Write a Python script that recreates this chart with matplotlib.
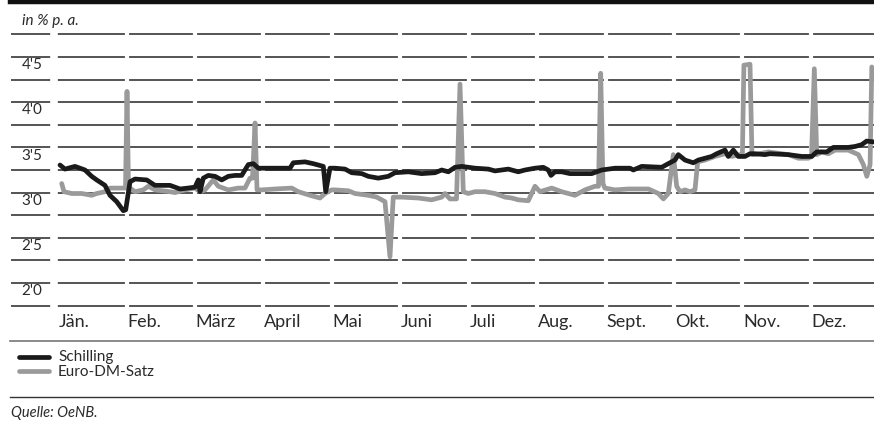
import matplotlib
matplotlib.use("Agg")
import matplotlib.pyplot as plt
from matplotlib.lines import Line2D

# ---------------- data ----------------
months = ["Jän.", "Feb.", "März", "April", "Mai", "Juni", "Juli", "Aug.", "Sept.", "Okt.", "Nov.", "Dez."]
y_ticks = [2.0, 2.5, 3.0, 3.5, 4.0, 4.5]
y_tick_labels = ["2'0", "2'5", "3'0", "3'5", "4'0", "4'5"]

# position in months since 1 Jan
schilling_t = [0.028, 0.101, 0.247, 0.393, 0.491, 0.564, 0.685, 0.758, 0.856, 0.953, 0.988,
               1.051, 1.124, 1.295, 1.416, 1.635, 1.782, 1.898, 2.000, 2.049, 2.074, 2.122,
               2.195, 2.293, 2.391, 2.487, 2.585, 2.683, 2.731, 2.780, 2.853, 2.926, 3.072,
               3.389, 3.437, 3.608, 3.729, 3.876, 3.911, 3.973, 4.046, 4.193, 4.291, 4.437,
               4.533, 4.679, 4.825, 4.923, 5.118, 5.313, 5.508, 5.606, 5.703, 5.800, 5.898,
               6.093, 6.287, 6.385, 6.579, 6.725, 6.823, 6.969, 7.090, 7.163, 7.203, 7.261,
               7.359, 7.480, 7.798, 7.944, 8.139, 8.358, 8.406, 8.528, 8.821, 8.917, 9.015,
               9.063, 9.161, 9.282, 9.356, 9.453, 9.551, 9.624, 9.745, 9.794, 9.867, 9.940,
               10.038, 10.111, 10.184, 10.330, 10.403, 10.671, 10.867, 11.013, 11.086, 11.232,
               11.328, 11.547, 11.645, 11.743, 11.816, 11.923]
schilling = [3.305, 3.26, 3.29, 3.25, 3.18, 3.14, 3.08, 2.97, 2.90, 2.80, 2.81,
             3.12, 3.15, 3.14, 3.08, 3.08, 3.04, 3.05, 3.06, 3.14, 3.01, 3.16,
             3.19, 3.18, 3.14, 3.18, 3.19, 3.19, 3.25, 3.31, 3.32, 3.27, 3.27,
             3.27, 3.33, 3.34, 3.32, 3.29, 3.01, 3.27, 3.27, 3.26, 3.22, 3.21,
             3.18, 3.16, 3.18, 3.22, 3.23, 3.21, 3.22, 3.25, 3.23, 3.28, 3.29,
             3.27, 3.26, 3.24, 3.26, 3.23, 3.25, 3.27, 3.28, 3.25, 3.19, 3.23,
             3.23, 3.21, 3.21, 3.25, 3.27, 3.27, 3.25, 3.29, 3.28, 3.32, 3.36,
             3.42, 3.36, 3.33, 3.36, 3.38, 3.40, 3.43, 3.47, 3.40, 3.47, 3.40,
             3.40, 3.43, 3.43, 3.42, 3.43, 3.42, 3.40, 3.40, 3.45, 3.45,
             3.50, 3.50, 3.51, 3.53, 3.57, 3.56]

euro_dm_t = [0.053, 0.086, 0.199, 0.345, 0.491, 0.564, 0.685, 0.758, 0.929, 0.985, 1.007,
             1.029, 1.051, 1.124, 1.245, 1.318, 1.416, 1.635, 1.708, 1.855, 2.000, 2.074,
             2.147, 2.268, 2.341, 2.487, 2.633, 2.731, 2.804, 2.841, 2.878, 2.907, 2.975,
             3.170, 3.414, 3.510, 3.681, 3.827, 3.900, 3.998, 4.046, 4.241, 4.339, 4.533,
             4.656, 4.777, 4.850, 4.898, 5.021, 5.264, 5.459, 5.606, 5.654, 5.727, 5.822,
             5.873, 5.921, 5.994, 6.093, 6.239, 6.385, 6.531, 6.629, 6.725, 6.871, 6.969,
             7.042, 7.213, 7.359, 7.553, 7.699, 7.846, 7.897, 7.929, 7.962, 7.991, 8.139,
             8.333, 8.626, 8.772, 8.845, 8.917, 8.990, 9.040, 9.088, 9.161, 9.234, 9.307,
             9.347, 9.453, 9.599, 9.745, 9.843, 9.964, 10.000, 10.022, 10.111, 10.140,
             10.184, 10.379, 10.671, 10.817, 10.963, 11.010, 11.051, 11.086, 11.159, 11.256,
             11.354, 11.549, 11.695, 11.768, 11.818, 11.866, 11.891]
euro_dm = [3.10, 3.01, 2.99, 2.99, 2.97, 2.99, 3.01, 3.05, 3.05, 3.05, 4.12,
           3.05, 3.05, 3.01, 3.03, 3.07, 3.03, 3.01, 3.00, 3.03, 3.05, 3.01,
           3.03, 3.14, 3.07, 3.03, 3.05, 3.05, 3.16, 3.16, 3.77, 3.03, 3.03,
           3.04, 3.05, 3.01, 2.97, 2.94, 2.99, 3.03, 3.03, 3.02, 2.99, 2.97,
           2.95, 2.90, 2.29, 2.95, 2.95, 2.94, 2.92, 2.95, 2.99, 2.93, 2.93,
           4.20, 3.01, 2.99, 3.01, 3.01, 2.99, 2.95, 2.94, 2.92, 2.91, 3.07,
           3.01, 3.05, 3.01, 2.97, 3.03, 3.07, 3.07, 4.32, 3.10, 3.05, 3.03,
           3.04, 3.04, 2.99, 2.93, 2.99, 3.42, 3.07, 3.01, 3.03, 3.01, 3.03,
           3.34, 3.36, 3.40, 3.43, 3.40, 3.42, 3.42, 4.41, 4.42, 3.42,
           3.42, 3.45, 3.42, 3.38, 3.38, 3.40, 4.37, 3.42, 3.45, 3.43,
           3.47, 3.47, 3.42, 3.31, 3.18, 3.31, 4.39]

# ---------------- layout helpers ----------------
W, H = 874, 425
fig = plt.figure(figsize=(W / 100, H / 100), dpi=100)
FONT = ["Lato", "DejaVu Sans"]
plt.rcParams["font.family"] = FONT
TXT = "#2a2a2a"
WT = "normal"


def fy(py):
    return 1 - py / H


def fx(px):
    return px / W


ax_l, ax_r, ax_t, ax_b = 11, 874, 25, 310
ax = fig.add_axes([fx(ax_l), fy(ax_b), (ax_r - ax_l) / W, (ax_b - ax_t) / H])
# month k starts at pixel x0 + k*mw ; value v at pixel y = y0 - (v-2)*vh
x0, mw = 58.1, 68.43
y0, vh = 283.0, 90.4
ax.set_xlim((ax_l - x0) / mw, (ax_r - x0) / mw)
ax.set_ylim(2 + (y0 - ax_b) / vh, 2 + (y0 - ax_t) / vh)
for s in ax.spines.values():
    s.set_visible(False)
ax.set_xticks([])
ax.set_yticks([])
ax.patch.set_alpha(0)

# grid lines every 0.25
g = 1.75
while g <= 4.76:
    ax.axhline(g, color="#262626", lw=1.1, zorder=1)
    g += 0.25
# month gaps
for k in range(1, 12):
    ax.axvline(k, color="white", lw=3.0, zorder=1.5)
ax.axvline((54 - x0) / mw, color="white", lw=5.5, zorder=1.5)

# series
ax.plot(euro_dm_t, euro_dm, color="#9a9a9a", lw=3.4, zorder=3,
        solid_joinstyle="round", solid_capstyle="round", clip_on=False)
ax.plot(schilling_t, schilling, color="#1a1a1a", lw=3.4, zorder=4,
        solid_joinstyle="round", solid_capstyle="round", clip_on=False)

# y labels
xl = (32 - x0) / mw
for v, lab in zip(y_ticks, y_tick_labels):
    ax.text(xl, v - 0.09, lab, ha="center", va="center", fontsize=11,
            color=TXT, fontweight=WT)

# month labels
for k, m in enumerate(months):
    ax.text(k + 0.01, 2 + (y0 - 322) / vh, m, ha="left", va="center",
            fontsize=13, color=TXT, fontweight=WT, clip_on=False)

# header / frame lines
fig.add_artist(Line2D([fx(10), 1], [fy(1.5), fy(1.5)], color="#111111", lw=3.2))
fig.add_artist(Line2D([fx(10), 1], [fy(341), fy(341)], color="#777777", lw=1.2))
fig.add_artist(Line2D([fx(10), 1], [fy(397), fy(397)], color="#333333", lw=1.0))
fig.text(fx(22), fy(21), "in % p. a.", ha="left", va="center", fontsize=11,
         style="italic", color=TXT, fontweight=WT)

# legend
fig.add_artist(Line2D([fx(19), fx(49)], [fy(357), fy(357)], color="#1a1a1a", lw=3.4,
                      solid_capstyle="round"))
fig.add_artist(Line2D([fx(19), fx(49)], [fy(371), fy(371)], color="#9a9a9a", lw=3.4,
                      solid_capstyle="round"))
fig.text(fx(58), fy(357), "Schilling", ha="left", va="center", fontsize=11,
         color=TXT, fontweight=WT)
fig.text(fx(58), fy(372), "Euro-DM-Satz", ha="left", va="center", fontsize=11,
         color=TXT, fontweight=WT)
fig.text(fx(11), fy(413), "Quelle: OeNB.", ha="left", va="center", fontsize=10.5,
         style="italic", color=TXT, fontweight=WT)

fig.savefig("out.png", dpi=100)
